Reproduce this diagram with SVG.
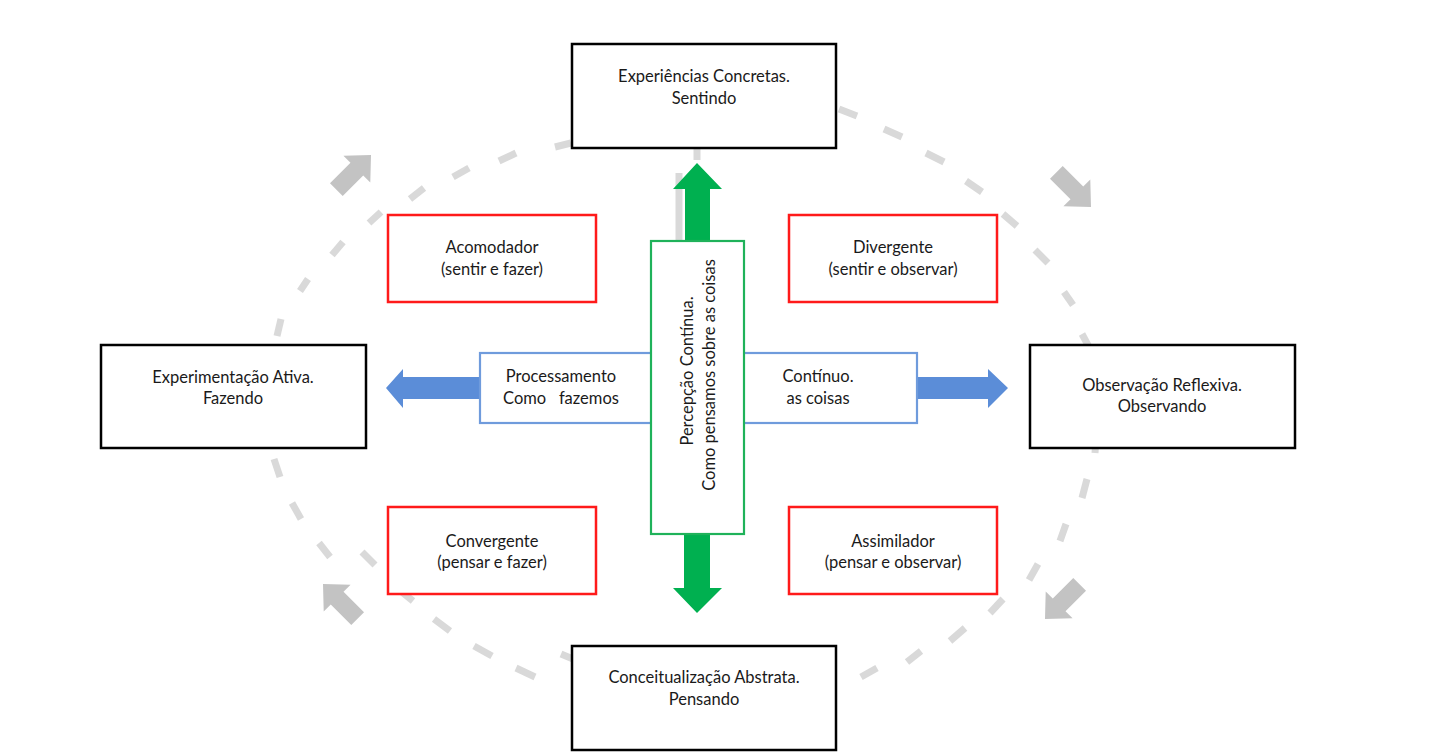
<svg xmlns="http://www.w3.org/2000/svg" width="1443" height="754" viewBox="0 0 1443 754">
<style>
.t{font-family:Lato,"Liberation Sans",sans-serif;font-size:16.5px;fill:#1a1a1a;text-anchor:middle}
.bk{fill:#fff;stroke:#000;stroke-width:2.5}
.rd{fill:#fff;stroke:#ff1a1a;stroke-width:2.5}
.gn{fill:#fff;stroke:#1fb25a;stroke-width:2.2}
.bl{fill:#fff;stroke:#6f9bdc;stroke-width:2.2}
.ds{stroke:#d9d9d9;stroke-width:7;fill:none}
.ga{fill:#c3c3c3}
.garr{fill:#00b050}
.barr{fill:#5b8dd8}
</style>
<defs>
<path id="gh" d="M0,0 L-20,-19 L-20,-9 L-49,-9 L-49,9 L-20,9 L-20,19 Z"/>
</defs>
<rect width="1443" height="754" fill="#fff"/>
<g id="connectors">
<g id="cycle-dashes">
<line class="ds" x1="555" y1="147" x2="571" y2="143"/>
<line class="ds" x1="499" y1="161" x2="516" y2="153"/>
<line class="ds" x1="453" y1="177" x2="469" y2="168"/>
<line class="ds" x1="410" y1="199" x2="424" y2="188"/>
<line class="ds" x1="369" y1="223" x2="381" y2="212"/>
<line class="ds" x1="332" y1="255" x2="343" y2="242"/>
<line class="ds" x1="300" y1="291" x2="308" y2="279"/>
<line class="ds" x1="277" y1="336" x2="281" y2="319"/>
<line class="ds" x1="274" y1="459" x2="280" y2="477"/>
<line class="ds" x1="292" y1="503" x2="301" y2="519"/>
<line class="ds" x1="319" y1="543" x2="330" y2="557"/>
<line class="ds" x1="362" y1="552" x2="375" y2="565"/>
<line class="ds" x1="397" y1="588" x2="413" y2="601"/>
<line class="ds" x1="434" y1="619" x2="450" y2="631"/>
<line class="ds" x1="474" y1="646" x2="492" y2="656"/>
<line class="ds" x1="516" y1="668" x2="535" y2="677"/>
<line class="ds" x1="561" y1="654" x2="573" y2="659"/>
<line class="ds" x1="839" y1="109" x2="857" y2="116"/>
<line class="ds" x1="884" y1="129" x2="902" y2="137"/>
<line class="ds" x1="926" y1="153" x2="944" y2="162"/>
<line class="ds" x1="966" y1="181" x2="982" y2="192"/>
<line class="ds" x1="1003" y1="214" x2="1017" y2="226"/>
<line class="ds" x1="1035" y1="250" x2="1048" y2="263"/>
<line class="ds" x1="1064" y1="292" x2="1073" y2="305"/>
<line class="ds" x1="1082" y1="334" x2="1089" y2="347"/>
<line class="ds" x1="1096" y1="438" x2="1095" y2="453"/>
<line class="ds" x1="1087" y1="479" x2="1082" y2="498"/>
<line class="ds" x1="1066" y1="524" x2="1060" y2="541"/>
<line class="ds" x1="1038" y1="564" x2="1029" y2="580"/>
<line class="ds" x1="1003" y1="599" x2="990" y2="613"/>
<line class="ds" x1="965" y1="628" x2="950" y2="641"/>
<line class="ds" x1="921" y1="651" x2="907" y2="662"/>
<line class="ds" x1="877" y1="668" x2="861" y2="677"/>
<line class="ds" x1="697" y1="149" x2="697" y2="160"/>
<line class="ds" x1="679" y1="173" x2="679" y2="241"/>
</g>
<g id="cycle-arrowheads">
<use href="#gh" class="ga" transform="translate(371,155) rotate(-45)"/>
<use href="#gh" class="ga" transform="translate(1091,207) rotate(45)"/>
<use href="#gh" class="ga" transform="translate(1045,619) rotate(135)"/>
<use href="#gh" class="ga" transform="translate(323,584) rotate(225)"/>
</g>
<g id="blue-arrows">
<path class="barr" d="M480,377 L403,377 L403,369 L386,388 L403,408 L403,399 L480,399 Z"/>
<path class="barr" d="M917,377 L988,377 L988,369 L1008,388 L988,408 L988,399 L917,399 Z"/>
</g>
<g id="green-arrows">
<path class="garr" d="M685,241 L685,189 L673,189 L697,163 L722,189 L710,189 L710,241 Z"/>
<path class="garr" d="M684,534 L684,588 L673,588 L697,613 L722,588 L710,588 L710,534 Z"/>
</g>
</g>
<g id="node-processamento">
<rect class="bl" x="480" y="353" width="437" height="70"/>
<text class="t" x="561" y="382">Processamento</text>
<text class="t" x="561" y="404" xml:space="preserve">Como   fazemos</text>
<text class="t" x="818" y="382">Contínuo.</text>
<text class="t" x="818" y="404">as coisas</text>
</g>
<g id="node-percepcao">
<rect class="gn" x="651" y="241" width="93" height="293"/>
<text class="t" transform="translate(693,371) rotate(-90)">Percepção Contínua.</text>
<text class="t" transform="translate(715,375) rotate(-90)">Como pensamos sobre as coisas</text>
</g>
<g id="node-experiencias">
<rect class="bk" x="572" y="44" width="264" height="104"/>
<text class="t" x="704" y="82">Experiências Concretas.</text>
<text class="t" x="704" y="104">Sentindo</text>
</g>
<g id="node-experimentacao">
<rect class="bk" x="101" y="345" width="265" height="103"/>
<text class="t" x="233" y="383">Experimentação Ativa.</text>
<text class="t" x="233" y="404">Fazendo</text>
</g>
<g id="node-observacao">
<rect class="bk" x="1030" y="345" width="265" height="103"/>
<text class="t" x="1162" y="391">Observação Reflexiva.</text>
<text class="t" x="1162" y="412">Observando</text>
</g>
<g id="node-conceitualizacao">
<rect class="bk" x="572" y="646" width="264" height="104"/>
<text class="t" x="704" y="683">Conceitualização Abstrata.</text>
<text class="t" x="704" y="705">Pensando</text>
</g>
<g id="node-acomodador">
<rect class="rd" x="388" y="215" width="208" height="87"/>
<text class="t" x="492" y="253">Acomodador</text>
<text class="t" x="492" y="275">(sentir e fazer)</text>
</g>
<g id="node-divergente">
<rect class="rd" x="789" y="215" width="208" height="87"/>
<text class="t" x="893" y="253">Divergente</text>
<text class="t" x="893" y="275">(sentir e observar)</text>
</g>
<g id="node-convergente">
<rect class="rd" x="388" y="507" width="208" height="87"/>
<text class="t" x="492" y="547">Convergente</text>
<text class="t" x="492" y="568">(pensar e fazer)</text>
</g>
<g id="node-assimilador">
<rect class="rd" x="789" y="507" width="208" height="87"/>
<text class="t" x="893" y="547">Assimilador</text>
<text class="t" x="893" y="568">(pensar e observar)</text>
</g>
</svg>
